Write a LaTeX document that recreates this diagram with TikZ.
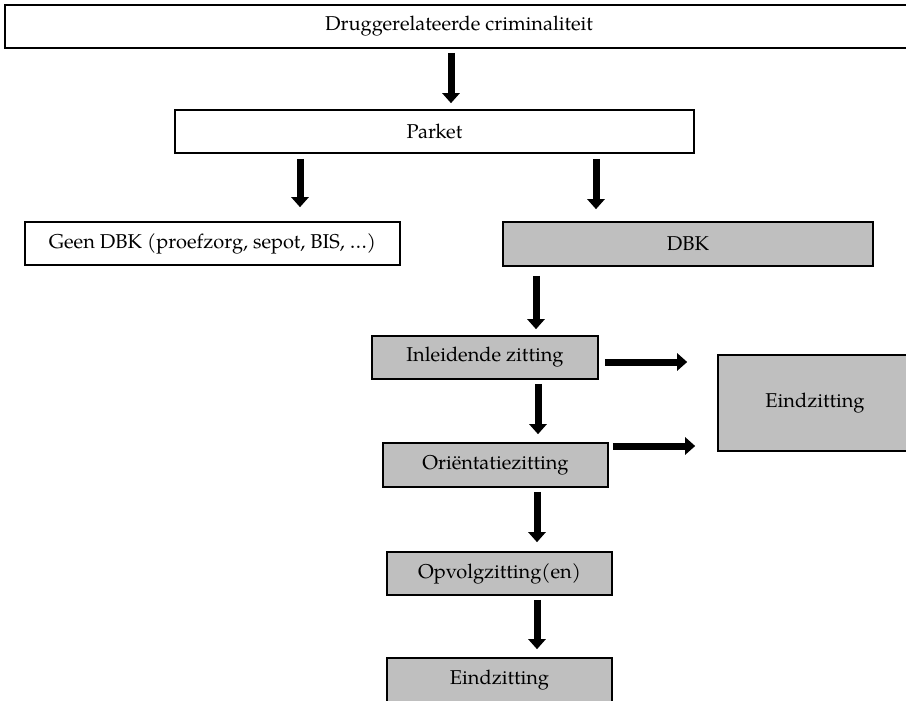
\documentclass[tikz,border=0pt]{standalone}
\usepackage{fontspec}
\setmainfont{TeX Gyre Pagella}
\usetikzlibrary{arrows.meta}
\definecolor{boxgray}{RGB}{191,191,191}
\begin{document}
\begin{tikzpicture}[x=1pt,y=-1pt,
  box/.style={draw=black, line width=1.6pt, rectangle, inner sep=0pt, fill=white, font=\fontsize{20}{24}\selectfont},
  gbox/.style={box, fill=boxgray},
  arr/.style={line width=7pt, -{Triangle[width=17pt,length=10pt]}}]
\useasboundingbox (0,0) rectangle (906,701);
\node[box, minimum width=908pt, minimum height=43pt] (top) at (459,26.5) {Druggerelateerde criminaliteit};
\node[box, minimum width=519pt, minimum height=43pt] (parket) at (434.5,131.5) {Parket};
\node[box, minimum width=375pt, minimum height=43pt] (geen) at (212.5,243.5) {Geen DBK (proefzorg, sepot, BIS, \dots)};
\node[gbox, minimum width=194pt, minimum height=96pt] (eindr) at (815,403) {Eindzitting};
\node[gbox, minimum width=370pt, minimum height=44pt] (dbk) at (688,244) {DBK};
\node[gbox, minimum width=226pt, minimum height=43pt] (inl) at (485,357.5) {Inleidende zitting};
\node[gbox, minimum width=225pt, minimum height=44pt] (ori) at (495.5,465) {Oriëntatiezitting};
\node[gbox, minimum width=225pt, minimum height=43pt] (opv) at (499.5,573.5) {Opvolgzitting(en)};
\node[gbox, minimum width=225pt, minimum height=45pt] (eind) at (499.5,680.5) {Eindzitting};
\coordinate (xa) at (451,0);
\coordinate (xb) at (300,0);
\coordinate (xc) at (596,0);
\coordinate (xd) at (536,0);
\coordinate (xe) at (538,0);
\coordinate (xf) at (537,0);
\coordinate (ya) at (0,362);
\coordinate (yb) at (0,446);
\draw[arr, shorten <=4pt, shorten >=6pt] (top.south -| xa) -- (parket.north -| xa);
\draw[arr, shorten <=5pt, shorten >=14pt] (parket.south -| xb) -- (geen.north -| xb);
\draw[arr, shorten <=5pt, shorten >=12pt] (parket.south -| xc) -- (dbk.north -| xc);
\draw[arr, shorten <=9pt, shorten >=6pt] (dbk.south -| xd) -- (inl.north -| xd);
\draw[arr, shorten <=4pt, shorten >=8pt] (inl.south -| xe) -- (ori.north -| xe);
\draw[arr, shorten <=4pt, shorten >=9pt] (ori.south -| xf) -- (opv.north -| xf);
\draw[arr, shorten <=4pt, shorten >=8pt] (opv.south -| xf) -- (eind.north -| xf);
\draw[arr, shorten <=6pt, shorten >=30pt] (inl.east |- ya) -- (eindr.west |- ya);
\draw[arr, shorten <=4pt, shorten >=22pt] (ori.east |- yb) -- (eindr.west |- yb);
\end{tikzpicture}
\end{document}
